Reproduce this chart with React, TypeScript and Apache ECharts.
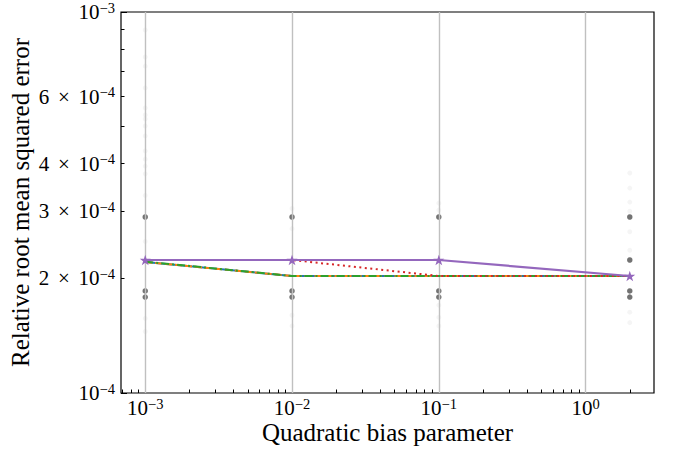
import React, { useEffect, useRef } from 'react';
import * as echarts from 'echarts';

// ---- data ----
const xValues = [0.001, 0.01, 0.1, 2];
const blueValues = [2.207e-4, 2.028e-4, 2.028e-4, 2.028e-4];
const orangeValues = [2.207e-4, 2.028e-4, 2.028e-4, 2.028e-4];
const greenValues = [2.212e-4, 2.028e-4, 2.028e-4, 2.028e-4];
const redValues = [2.234e-4, 2.234e-4, 2.028e-4, 2.028e-4];
const purpleValues = [2.234e-4, 2.234e-4, 2.234e-4, 2.028e-4];

const darkPoints: [number, number][] = [
  [0.001, 2.897e-4], [0.001, 1.853e-4], [0.001, 1.786e-4],
  [0.01, 2.897e-4], [0.01, 1.853e-4], [0.01, 1.786e-4],
  [0.1, 2.897e-4], [0.1, 1.853e-4], [0.1, 1.786e-4],
  [2, 2.897e-4], [2, 2.234e-4], [2, 1.853e-4], [2, 1.786e-4],
];

const faintPoints: [number, number][] = [
  [0.001, 8.97e-4], [0.001, 7.62e-4], [0.001, 7.21e-4], [0.001, 6.32e-4],
  [0.001, 5.6e-4], [0.001, 5.37e-4], [0.001, 5.24e-4], [0.001, 5.02e-4],
  [0.001, 4.73e-4], [0.001, 4.32e-4], [0.001, 4.11e-4], [0.001, 3.94e-4],
  [0.001, 3.76e-4], [0.001, 3.3e-4], [0.001, 2.5e-4], [0.001, 1.57e-4],
  [0.001, 1.45e-4],
  [0.01, 3.05e-4], [0.01, 2.7e-4], [0.01, 1.6e-4], [0.01, 1.5e-4],
  [0.1, 3.15e-4], [0.1, 3.02e-4], [0.1, 1.7e-4], [0.1, 1.58e-4], [0.1, 1.5e-4],
  [2, 3.78e-4], [2, 3.45e-4], [2, 3.17e-4], [2, 3.0e-4], [2, 2.65e-4],
  [2, 2.37e-4], [2, 1.63e-4], [2, 1.53e-4],
];

const xMajorTicks = [1e-3, 1e-2, 1e-1, 1];
const xMinorDecades = [1e-4, 1e-3, 1e-2, 1e-1, 1];
const yMajorTicks = [1e-4, 1e-3];
const yMinorDecades = [1e-4];
const yLabelTicks = [1e-4, 2e-4, 3e-4, 4e-4, 6e-4, 1e-3];
const minorMultipliers = [2, 3, 4, 5, 6, 7, 8, 9];

const xTitle = 'Quadratic bias parameter';
const yTitle = 'Relative root mean squared error';

// ---- helpers ----
const lg = Math.log10;
const X_MIN = -3.16505;
const X_MAX = 0.46608;
const Y_MIN = lg(1e-4);
const Y_MAX = lg(1e-3);

const FONT = 'Liberation Serif';
const STAR =
  'path://M0,-1L0.2245,-0.309L0.951,-0.309L0.363,0.118L0.588,0.809L0,0.382L-0.588,0.809L-0.363,0.118L-0.951,-0.309L-0.2245,-0.309Z';

const minors = (decades: number[], lo: number, hi: number) =>
  decades
    .flatMap((d) => minorMultipliers.map((m) => lg(m * d)))
    .filter((v) => v > lo + 1e-9 && v < hi - 1e-9);

const fmt = (v: number) => {
  const e = Math.floor(v + 1e-6);
  const m = Math.round(Math.pow(10, v - e));
  const sup = e < 0 ? '\u2212' + -e : String(e);
  return m === 1 ? `{b|10}{s|${sup}}` : `{b|${m} \u2006\u00d7\u2006 10}{s|${sup}}`;
};

const rich = {
  b: { fontFamily: FONT, fontSize: 21, color: '#000', lineHeight: 24 },
  s: { fontFamily: FONT, fontSize: 14.5, color: '#000', lineHeight: 13, verticalAlign: 'top' },
};

const toXY = (vals: number[]) => xValues.map((x, i) => [lg(x), lg(vals[i])]);
const toPts = (pts: [number, number][]) => pts.map(([x, y]) => [lg(x), lg(y)]);

const lineSeries = (
  name: string,
  vals: number[],
  color: string,
  type: any,
  width: number,
  z: number,
  extra: any = {}
) => ({
  name,
  type: 'line',
  data: toXY(vals),
  xAxisIndex: 0,
  yAxisIndex: 0,
  symbol: 'none',
  lineStyle: { color, width, type },
  itemStyle: { color },
  z,
  ...extra,
});

export default function App() {
  const ref = useRef<HTMLDivElement>(null);
  useEffect(() => {
    const chart = echarts.init(ref.current!, null, { renderer: 'svg' });
    const option: any = {
      animation: false,
      backgroundColor: '#fff',
      grid: {
        left: 121,
        right: 19,
        top: 12,
        bottom: 58,
        show: true,
        borderColor: '#000',
        borderWidth: 1.2,
        backgroundColor: 'transparent',
        containLabel: false,
        outerBoundsMode: 'none',
      },
      xAxis: [
        {
          type: 'value',
          min: X_MIN,
          max: X_MAX,
          position: 'bottom',
          name: xTitle,
          nameLocation: 'middle',
          nameGap: 27,
          nameMoveOverlap: false,
          nameTextStyle: { fontFamily: FONT, fontSize: 25, color: '#000' },
          axisLine: { show: false, onZero: false },
          axisTick: {
            show: true,
            inside: true,
            length: 6,
            lineStyle: { color: '#000', width: 1 },
            customValues: xMajorTicks.map(lg),
          },
          axisLabel: {
            show: true,
            margin: 3,
            customValues: xMajorTicks.map(lg),
            formatter: (v: number) => fmt(v),
            rich,
          },
          splitLine: { show: false },
        },
        {
          type: 'value',
          min: X_MIN,
          max: X_MAX,
          position: 'bottom',
          axisLine: { show: false, onZero: false },
          axisTick: {
            show: true,
            inside: true,
            length: 3.5,
            lineStyle: { color: '#000', width: 1 },
            customValues: minors(xMinorDecades, X_MIN, X_MAX),
          },
          axisLabel: { show: false },
          splitLine: { show: false },
        },
      ],
      yAxis: [
        {
          type: 'value',
          min: Y_MIN,
          max: Y_MAX,
          position: 'left',
          name: yTitle,
          nameLocation: 'middle',
          nameGap: 88,
          nameMoveOverlap: false,
          nameTextStyle: { fontFamily: FONT, fontSize: 25, color: '#000' },
          axisLine: { show: false, onZero: false },
          axisTick: {
            show: true,
            inside: true,
            length: 6,
            lineStyle: { color: '#000', width: 1 },
            customValues: yMajorTicks.map(lg),
          },
          axisLabel: {
            show: true,
            margin: 6,
            customValues: yLabelTicks.map(lg),
            formatter: (v: number) => fmt(v),
            rich,
          },
          splitLine: { show: false },
        },
        {
          type: 'value',
          min: Y_MIN,
          max: Y_MAX,
          position: 'left',
          axisLine: { show: false, onZero: false },
          axisTick: {
            show: true,
            inside: true,
            length: 3.5,
            lineStyle: { color: '#000', width: 1 },
            customValues: minors(yMinorDecades, Y_MIN, Y_MAX),
          },
          axisLabel: { show: false },
          splitLine: { show: false },
        },
      ],
      series: [
        {
          name: 'faint',
          type: 'scatter',
          data: toPts(faintPoints),
          symbolSize: 5,
          itemStyle: { color: 'rgba(0,0,0,0.05)' },
          z: 1,
          silent: true,
          markLine: {
            silent: true,
            symbol: 'none',
            label: { show: false },
            lineStyle: { color: '#c0c0c0', width: 1.4, type: 'solid' },
            data: xMajorTicks.map((t) => ({ xAxis: lg(t) })),
          },
        },
        {
          name: 'runs',
          type: 'scatter',
          data: toPts(darkPoints),
          symbolSize: 5.5,
          itemStyle: { color: '#505050' },
          z: 2,
          silent: true,
        },
        lineSeries('blue', blueValues, '#1f77b4', 'solid', 2, 3),
        lineSeries('orange', orangeValues, '#ff7f0e', [7, 3], 2, 4),
        lineSeries('green', greenValues, '#2ca02c', [8, 3, 2, 3], 2, 5),
        lineSeries('red', redValues, '#d62728', [2, 3.5], 2, 6),
        lineSeries('purple', purpleValues, '#9467bd', 'solid', 2.2, 7, {
          symbol: STAR,
          symbolSize: 11,
          symbolKeepAspect: true,
          showSymbol: true,
        }),
      ],
    };
    chart.setOption(option);
    return () => chart.dispose();
  }, []);
  return (
    <div
      ref={ref}
      style={{ position: 'absolute', left: 0, top: 0, width: 673, height: 451 }}
    />
  );
}
